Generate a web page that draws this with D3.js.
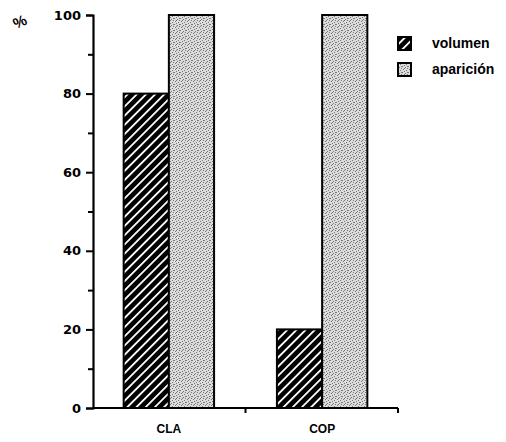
<!DOCTYPE html>
<html><head><meta charset="utf-8">
<script src="https://cdn.jsdelivr.net/npm/d3@7"></script>
<style>body{margin:0;background:#fff}svg{display:block}text{fill:#000}</style>
</head><body>
<script>
const categories = ["CLA", "COP"];
const seriesNames = ["volumen", "aparición"];
const volumen = [80, 20];
const aparicion = [100, 100];
const yTicks = [0, 20, 40, 60, 80, 100];
const yMinorTicks = [10, 30, 50, 70, 90];

const W = 506, H = 442;
const svg = d3.select("body").append("svg").attr("width", W).attr("height", H);
const defs = svg.append("defs");
const SANS = "'Liberation Sans', Arial, sans-serif";
const WIDE = "'DejaVu Sans', sans-serif";

// hatch pattern
const hp = defs.append("pattern").attr("id","hatch").attr("patternUnits","userSpaceOnUse")
  .attr("width",6.5).attr("height",6.5).attr("patternTransform","rotate(45)");
hp.append("rect").attr("width",6.5).attr("height",6.5).attr("fill","#000");
hp.append("rect").attr("x",0).attr("y",0).attr("width",1.8).attr("height",6.5).attr("fill","#fff");

// stipple pattern
const sp = defs.append("pattern").attr("id","stip").attr("patternUnits","userSpaceOnUse")
  .attr("width",6).attr("height",6);
sp.append("rect").attr("width",6).attr("height",6).attr("fill","#dcdcdc");
[[0,0],[3,1],[1,3],[4,4],[2,5],[5,2],[5,0],[2,2]].forEach(([a,b])=>sp.append("rect").attr("x",a).attr("y",b).attr("width",1).attr("height",1).attr("fill","#777"));

const x0 = 93, x1 = 398, yTop = 15, yBot = 408;
const y = d3.scaleLinear().domain([0,100]).range([yBot, yTop]);
const x = d3.scaleBand().domain(categories).range([x0, x1]).paddingInner(0.41).paddingOuter(0.2);
const xs = d3.scaleBand().domain(seriesNames).range([0, x.bandwidth()]);

const data = categories.map((c,i)=>({cat:c, vals:[volumen[i], aparicion[i]]}));
const fills = ["url(#hatch)","url(#stip)"];

const g = svg.append("g");
data.forEach(d=>{
  d.vals.forEach((v,j)=>{
    g.append("rect").attr("x", x(d.cat)+xs(seriesNames[j])).attr("y", y(v))
      .attr("width", xs.bandwidth()).attr("height", y(0)-y(v))
      .attr("fill", fills[j]).attr("stroke","#000").attr("stroke-width",2);
  });
});

// y axis
const ya = svg.append("g").attr("transform",`translate(${x0},0)`)
  .call(d3.axisLeft(y).tickValues(yTicks).tickSize(7).tickPadding(5).tickFormat(d3.format("d")));
ya.select(".domain").attr("stroke-width",2.2);
ya.selectAll(".tick line").attr("stroke-width",2);
ya.selectAll(".tick text").style("font-size","13px").style("font-family",WIDE).style("font-weight","bold");
const ym = svg.append("g").attr("transform",`translate(${x0},0)`)
  .call(d3.axisLeft(y).tickValues(yMinorTicks).tickSize(5).tickFormat(""));
ym.select(".domain").remove();
ym.selectAll(".tick line").attr("stroke-width",2);

// x axis
const xa = svg.append("g").attr("transform",`translate(0,${yBot})`)
  .call(d3.axisBottom(x).tickSize(0).tickPadding(16));
xa.select(".domain").attr("stroke-width",2.2).attr("d",`M${x0},0H${x1}`);
xa.selectAll(".tick text").style("font-size","12px").style("font-family",SANS).style("font-weight","bold");
const bounds = [ (x(categories[0])+x.bandwidth()+x(categories[1]))/2, x1 ];
xa.selectAll(".btick").data(bounds).enter().append("line").attr("class","btick")
  .attr("x1",d=>d).attr("x2",d=>d).attr("y1",0).attr("y2",5).attr("stroke","#000").attr("stroke-width",2);

// % label
svg.append("text").attr("x",20).attr("y",27).attr("text-anchor","middle")
  .style("font-size","15px").style("font-family",SANS).style("font-weight","bold")
  .attr("transform","rotate(-25,20,22)").text("%");

// legend
const lg = svg.append("g");
seriesNames.forEach((s,i)=>{
  const ly = 37 + i*26;
  lg.append("rect").attr("x",398).attr("y",ly).attr("width",13).attr("height",13)
    .attr("fill", fills[i]).attr("stroke","#000").attr("stroke-width",2);
  lg.append("text").attr("x",432).attr("y",ly+11)
    .style("font-size","14px").style("font-family",SANS).style("font-weight","bold").text(s);
});
</script>
</body></html>
